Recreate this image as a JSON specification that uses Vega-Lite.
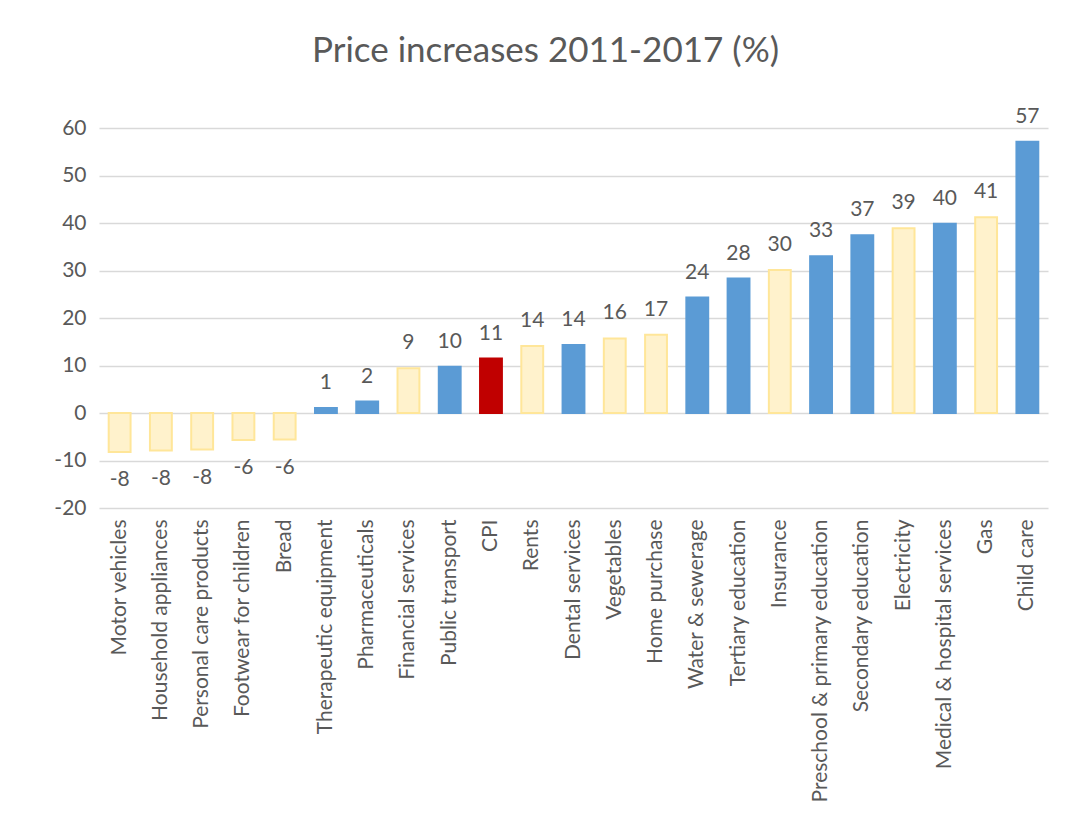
{
  "$schema": "https://vega.github.io/schema/vega-lite/v6.json",
  "autosize": "none",
  "width": 949,
  "height": 380,
  "padding": {"left": 99, "top": 128, "right": 28, "bottom": 328},
  "background": "white",
  "title": {
    "text": "Price increases 2011-2017 (%)",
    "fontSize": 35,
    "font": "Lato",
    "fontWeight": "normal",
    "color": "#595959",
    "anchor": "middle",
    "dx": -28,
    "offset": 37
  },
  "data": {
    "values": [
      {"item": "Motor vehicles", "value": -8.2, "type": "yellow"},
      {"item": "Household appliances", "value": -7.9, "type": "yellow"},
      {"item": "Personal care products", "value": -7.7, "type": "yellow"},
      {"item": "Footwear for children", "value": -5.7, "type": "yellow"},
      {"item": "Bread", "value": -5.6, "type": "yellow"},
      {"item": "Therapeutic equipment", "value": 1.05, "type": "blue"},
      {"item": "Pharmaceuticals", "value": 2.4, "type": "blue"},
      {"item": "Financial services", "value": 9.4, "type": "yellow"},
      {"item": "Public transport", "value": 9.75, "type": "blue"},
      {"item": "CPI", "value": 11.45, "type": "red"},
      {"item": "Rents", "value": 14.1, "type": "yellow"},
      {"item": "Dental services", "value": 14.3, "type": "blue"},
      {"item": "Vegetables", "value": 15.7, "type": "yellow"},
      {"item": "Home purchase", "value": 16.5, "type": "yellow"},
      {"item": "Water & sewerage", "value": 24.3, "type": "blue"},
      {"item": "Tertiary education", "value": 28.3, "type": "blue"},
      {"item": "Insurance", "value": 30.1, "type": "yellow"},
      {"item": "Preschool & primary education", "value": 33.0, "type": "blue"},
      {"item": "Secondary education", "value": 37.4, "type": "blue"},
      {"item": "Electricity", "value": 38.9, "type": "yellow"},
      {"item": "Medical & hospital services", "value": 39.85, "type": "blue"},
      {"item": "Gas", "value": 41.2, "type": "yellow"},
      {"item": "Child care", "value": 57.1, "type": "blue"}
    ]
  },
  "encoding": {
    "x": {
      "field": "item",
      "type": "nominal",
      "sort": null,
      "scale": {"paddingInner": 0.47, "paddingOuter": 0.235},
      "axis": {
        "title": null,
        "labelAngle": -90,
        "labelPadding": 11,
        "labelFontSize": 21,
        "labelFont": "Lato",
        "labelColor": "#595959",
        "labelLimit": 400,
        "domain": false,
        "ticks": false
      }
    },
    "y": {
      "field": "value",
      "type": "quantitative",
      "scale": {"domain": [-20, 60], "nice": false},
      "axis": {
        "title": null,
        "values": [-20, -10, 0, 10, 20, 30, 40, 50, 60],
        "labelFontSize": 21,
        "labelFont": "Lato",
        "labelColor": "#595959",
        "labelPadding": 13,
        "domain": false,
        "ticks": false,
        "grid": true,
        "gridColor": "#D9D9D9",
        "gridWidth": 1.5
      }
    }
  },
  "layer": [
    {
      "mark": {"type": "bar", "strokeWidth": 2},
      "encoding": {
        "color": {
          "field": "type",
          "type": "nominal",
          "scale": {"domain": ["yellow", "blue", "red"], "range": ["#FFF2CC", "#5B9BD5", "#C00000"]},
          "legend": null
        },
        "stroke": {
          "field": "type",
          "type": "nominal",
          "scale": {"domain": ["yellow", "blue", "red"], "range": ["#FFE699", "#5B9BD5", "#C00000"]},
          "legend": null
        }
      }
    },
    {
      "transform": [{"filter": "datum.value >= 0"}],
      "mark": {"type": "text", "dy": -25, "baseline": "middle", "fontSize": 21, "font": "Lato", "color": "#595959"},
      "encoding": {"text": {"field": "value", "type": "quantitative", "format": ".0f"}}
    },
    {
      "transform": [{"filter": "datum.value < 0"}],
      "mark": {"type": "text", "dy": 28, "baseline": "middle", "fontSize": 21, "font": "Lato", "color": "#595959"},
      "encoding": {"text": {"field": "value", "type": "quantitative", "format": ".0f"}}
    }
  ],
  "config": {
    "view": {"stroke": null},
    "locale": {
      "number": {"decimal": ".", "thousands": ",", "grouping": [3], "currency": ["$", ""], "minus": "-"}
    }
  }
}
